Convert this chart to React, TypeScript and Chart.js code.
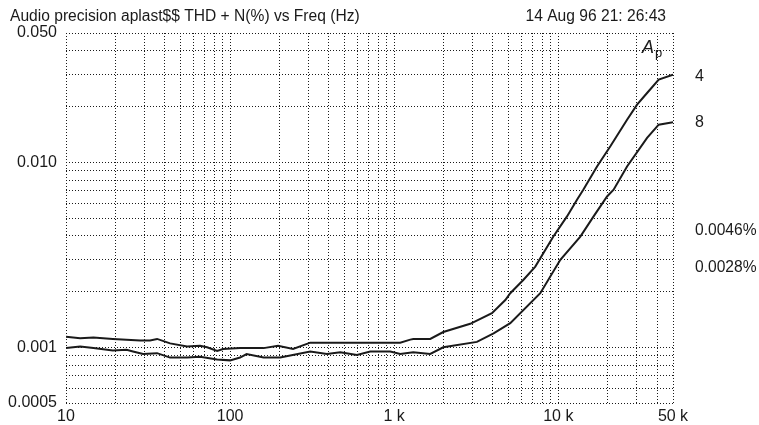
import React, { useEffect, useRef } from "react";
import { Chart, registerables } from "chart.js";

Chart.register(...registerables);

const TITLE = "Audio precision aplast$$ THD + N(%) vs Freq (Hz)";
const DATE_TEXT = "14 Aug 96 21: 26:43";

// Series "4"
const freq4 = [10, 12.2, 14.7, 19.3, 28.3, 32.5, 35.9, 43.1, 54.7, 65.6, 72.4, 83.4, 90.6, 115, 160, 196, 242, 308, 1088, 1253, 1306, 1658, 1991, 2905, 3941, 4755, 5097, 6138, 7241, 9330, 11300, 13000, 14200, 17220, 20760, 26240, 30200, 34750, 40920, 50000];
const thd4 = [0.00114, 0.00112, 0.00113, 0.00111, 0.00109, 0.00109, 0.00111, 0.00105, 0.00101, 0.00102, 0.001, 0.000955, 0.00098, 0.00099, 0.00099, 0.00102, 0.00098, 0.00106, 0.00106, 0.0011, 0.00111, 0.00111, 0.00121, 0.00134, 0.00153, 0.0018, 0.00196, 0.00232, 0.00273, 0.00397, 0.0051, 0.00628, 0.00711, 0.0095, 0.0122, 0.017, 0.0205, 0.0237, 0.028, 0.0298];

// Series "8"
const freq8 = [10, 12.2, 14.7, 19.3, 23.4, 25.6, 29.5, 35.9, 43.1, 54.7, 65.6, 83.4, 100, 115, 126, 160, 202, 308, 389, 469, 593, 714, 946, 1088, 1306, 1658, 1991, 3192, 4033, 5097, 7765, 10290, 13620, 16410, 19820, 21730, 26240, 34750, 40920, 50000];
const thd8 = [0.00099, 0.00101, 0.00099, 0.00096, 0.00097, 0.00095, 0.00092, 0.00093, 0.00088, 0.00088, 0.00089, 0.00086, 0.00085, 0.00088, 0.00092, 0.00088, 0.00088, 0.00095, 0.00092, 0.00094, 0.00091, 0.00095, 0.00095, 0.00092, 0.00094, 0.00092, 0.001, 0.00107, 0.00119, 0.00135, 0.00196, 0.00297, 0.00397, 0.0051, 0.00654, 0.00711, 0.0095, 0.01354, 0.01598, 0.01645];

const seriesNames = ["4", "8"];
const noteTexts = ["0.0046%", "0.0028%"];

const xGridValues = [10, 20, 30, 40, 50, 60, 70, 80, 90, 100, 200, 300, 400, 500, 600, 700, 800, 900, 1000, 2000, 3000, 4000, 5000, 6000, 7000, 8000, 9000, 10000, 20000, 30000, 40000, 50000];
const xLabelValues = [10, 100, 1000, 10000, 50000];
const xLabelTexts = ["10", "100", "1 k", "10 k", "50 k"];

const yGridValues = [0.0005, 0.0006, 0.0007, 0.0008, 0.0009, 0.001, 0.002, 0.003, 0.004, 0.005, 0.006, 0.007, 0.008, 0.009, 0.01, 0.02, 0.03, 0.04, 0.05];
const yLabelValues = [0.0005, 0.001, 0.01, 0.05];
const yLabelTexts = ["0.0005", "0.001", "0.010", "0.050"];

const FONT = "'Liberation Sans', Arial, Helvetica, sans-serif";
const INK = "#1a1a1a";

function labelFor(v: number, vals: number[], texts: string[]) {
  for (let i = 0; i < vals.length; i++) {
    if (Math.abs(vals[i] - v) / vals[i] < 1e-6) return texts[i];
  }
  return "";
}

const textPlugin = {
  id: "textPlugin",
  afterDraw(chart: any) {
    const ctx = chart.ctx as CanvasRenderingContext2D;
    ctx.save();
    ctx.fillStyle = INK;
    ctx.textBaseline = "alphabetic";
    ctx.font = `15.6px ${FONT}`;
    ctx.textAlign = "left";
    ctx.fillText(TITLE, 10, 21);
    ctx.textAlign = "right";
    ctx.fillText(DATE_TEXT, 666, 21);
    // A_p
    ctx.textAlign = "left";
    ctx.font = `italic 18px ${FONT}`;
    ctx.fillText("A", 642, 53);
    ctx.font = `13px ${FONT}`;
    ctx.fillText("p", 655, 57);
    // series labels and notes
    ctx.font = `16px ${FONT}`;
    ctx.textBaseline = "middle";
    ctx.fillText(seriesNames[0], 695, 77);
    ctx.fillText(seriesNames[1], 695, 123);
    ctx.font = `15.6px ${FONT}`;
    ctx.fillText(noteTexts[0], 695, 231);
    ctx.fillText(noteTexts[1], 695, 268);
    ctx.restore();
  },
};

export default function App() {
  const ref = useRef<HTMLCanvasElement | null>(null);
  useEffect(() => {
    if (!ref.current) return;
    const chart = new Chart(ref.current, {
      type: "line",
      data: {
        datasets: [
          {
            label: seriesNames[0],
            data: freq4.map((f, i) => ({ x: f, y: thd4[i] })),
            borderColor: INK,
            borderWidth: 2,
            pointRadius: 0,
            tension: 0,
            fill: false,
          },
          {
            label: seriesNames[1],
            data: freq8.map((f, i) => ({ x: f, y: thd8[i] })),
            borderColor: INK,
            borderWidth: 2,
            pointRadius: 0,
            tension: 0,
            fill: false,
          },
        ],
      },
      options: {
        responsive: false,
        animation: false,
        devicePixelRatio: 1,
        layout: { padding: { top: 33, right: 86, left: 0, bottom: 0 } },
        plugins: {
          legend: { display: false },
          tooltip: { enabled: false },
          title: { display: false },
        },
        scales: {
          x: {
            type: "logarithmic",
            min: 10,
            max: 50000,
            afterBuildTicks: (scale: any) => {
              scale.ticks = xGridValues.map((v) => ({ value: v }));
            },
            afterFit: (scale: any) => {
              scale.height = 22;
            },
            grid: { color: INK, lineWidth: 1, drawTicks: false },
            border: { display: false, dash: [1, 2] },
            ticks: {
              autoSkip: false,
              maxRotation: 0,
              padding: 4,
              color: INK,
              font: { family: FONT, size: 16 },
              callback: (value: any) => labelFor(Number(value), xLabelValues, xLabelTexts),
            },
          },
          y: {
            type: "logarithmic",
            min: 0.0005,
            max: 0.05,
            afterBuildTicks: (scale: any) => {
              scale.ticks = yGridValues.map((v) => ({ value: v }));
            },
            afterFit: (scale: any) => {
              scale.width = 66;
            },
            grid: { color: INK, lineWidth: 1, drawTicks: false },
            border: { display: false, dash: [1, 2] },
            ticks: {
              autoSkip: false,
              padding: 9,
              color: INK,
              font: { family: FONT, size: 16 },
              callback: (value: any) => labelFor(Number(value), yLabelValues, yLabelTexts),
            },
          },
        },
      },
      plugins: [textPlugin],
    });
    return () => chart.destroy();
  }, []);
  return (
    <div style={{ position: "fixed", left: 0, top: 0, width: 759, height: 425, background: "#fff" }}>
      <canvas ref={ref} width={759} height={425} style={{ display: "block", width: 759, height: 425 }} />
    </div>
  );
}
